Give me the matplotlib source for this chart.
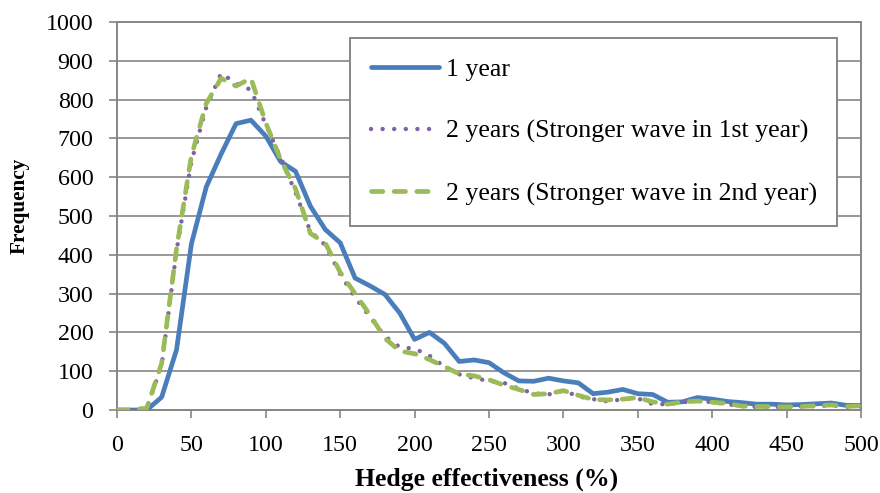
import matplotlib
matplotlib.use("Agg")
import matplotlib.pyplot as plt
import numpy as np

x_vals = list(range(0, 501, 10))

one_year = [0, 0, 0, 33, 155, 428, 575, 660, 738, 747,
            706, 640, 615, 525, 465, 431, 340, 320, 298, 250,
            182, 200, 172, 125, 129, 122, 96, 75, 74, 82,
            75, 70, 42, 46, 53, 42, 40, 20, 21, 32,
            28, 22, 19, 15, 15, 13, 14, 16, 18, 12, 12]

two_years_1st = [0, 0, 5, 115, 410, 640, 780, 868, 842, 825,
                 735, 650, 560, 460, 425, 350, 290, 240, 190, 162,
                 158, 140, 112, 92, 82, 75, 70, 55, 43, 40,
                 50, 35, 28, 22, 28, 30, 15, 15, 20, 24,
                 20, 15, 10, 8, 8, 8, 9, 10, 12, 8, 10]

two_years_2nd = [0, 0, 5, 120, 415, 655, 790, 855, 835, 855,
                 740, 645, 570, 455, 430, 355, 300, 245, 185, 152,
                 145, 130, 112, 93, 88, 78, 64, 53, 40, 42,
                 50, 38, 27, 26, 28, 32, 21, 15, 21, 23,
                 20, 17, 10, 9, 9, 8, 9, 11, 13, 9, 11]

series_labels = ["1 year",
                 "2 years (Stronger wave in 1st year)",
                 "2 years (Stronger wave in 2nd year)"]
x_ticks = list(range(0, 501, 50))
y_ticks = list(range(0, 1001, 100))

plt.rcParams['font.family'] = ['Liberation Serif', 'DejaVu Serif']

fig = plt.figure(figsize=(8.8, 4.93), dpi=100)
ax = fig.add_axes([117/880, 1 - 410/493, 744/880, 388/493])

grid_c = '#868686'
ax.plot(x_vals, one_year, color='#4A7EBB', lw=3.4, solid_capstyle='round',
        solid_joinstyle='round', label=series_labels[0], zorder=3)
ax.plot(x_vals, two_years_1st, color='#7F62A8', lw=3.2, linestyle=(0, (0.01, 2.6)),
        dash_capstyle='round', label=series_labels[1], zorder=4)
ax.plot(x_vals, two_years_2nd, color='#9BBB59', lw=3.4, linestyle=(0, (2.4, 2.4)),
        dash_capstyle='round', label=series_labels[2], zorder=5)

ax.set_xlim(0, 500)
ax.set_ylim(0, 1000)
ax.set_xticks(x_ticks)
ax.set_yticks(y_ticks)
ax.grid(axis='y', color=grid_c, lw=1.2)
ax.set_axisbelow(True)
for s in ax.spines.values():
    s.set_color(grid_c)
    s.set_linewidth(1.4)
ax.tick_params(axis='both', direction='out', length=6, width=1.2, color=grid_c,
               labelsize=17.3, labelcolor='black')
ax.tick_params(axis='y', pad=11)
ax.tick_params(axis='x', pad=12)

fig.text(487/880, 1 - 479/493, "Hedge effectiveness (%)", ha='center', va='center',
         fontsize=18.5, fontweight='bold')
fig.text(20/880, 1 - 206/493, "Frequency", ha='center', va='center', rotation=90,
         fontsize=15.3, fontweight='bold')

leg = ax.legend(loc='upper right', bbox_to_anchor=(0.9677, 0.9588), fontsize=18.6,
                frameon=True, fancybox=False, shadow=False, framealpha=1,
                edgecolor=grid_c, handlelength=2.66, handletextpad=0.25,
                labelspacing=1.5, borderpad=0.78, borderaxespad=0)
leg.get_frame().set_linewidth(1.4)

fig.savefig("out.png", dpi=100)
